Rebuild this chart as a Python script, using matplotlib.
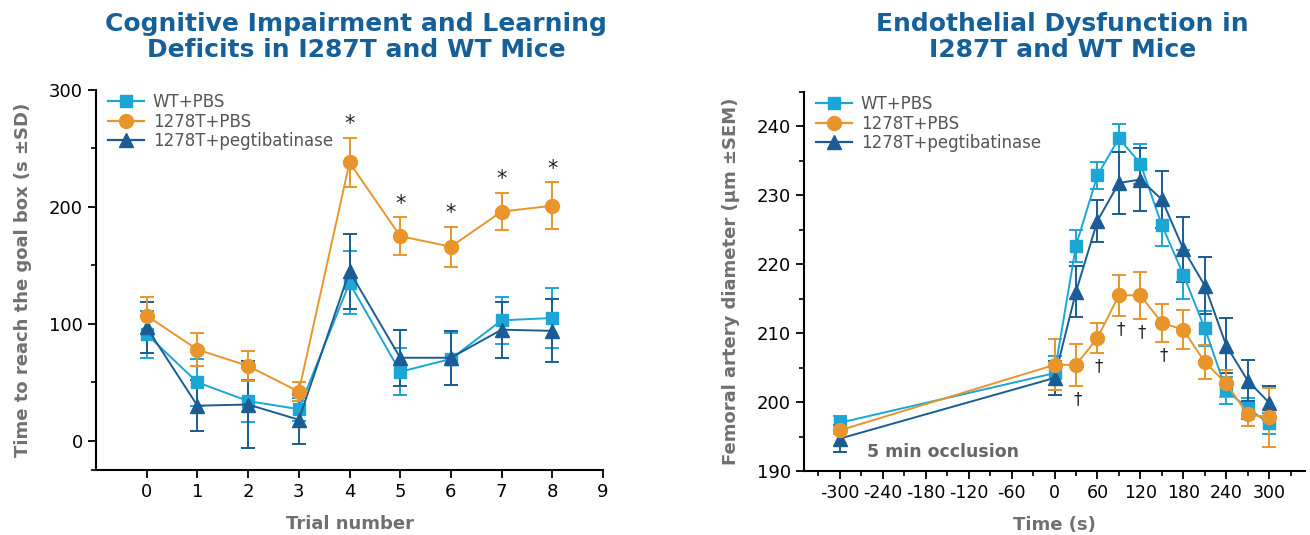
import numpy as np
import matplotlib.pyplot as plt
from matplotlib.lines import Line2D

# ---- left panel data: time to reach goal box (s, mean +/- SD) ----
trials = [0, 1, 2, 3, 4, 5, 6, 7, 8]
wt_pbs = [91, 50, 34, 27, 135, 59, 70, 103, 105]
wt_pbs_sd = [20, 20, 18, 10, 27, 20, 22, 20, 26]
i278t_pbs = [107, 78, 64, 42, 238, 175, 166, 196, 201]
i278t_pbs_sd = [16, 14, 13, 8, 21, 16, 17, 16, 20]
i278t_peg = [97, 30, 31, 18, 145, 71, 71, 95, 94]
i278t_peg_sd = [22, 22, 37, 21, 32, 24, 23, 24, 27]
star_trials = [4, 5, 6, 7, 8]

# ---- right panel data: femoral artery diameter (um, mean +/- SEM) ----
time_s = [-300, 0, 30, 60, 90, 120, 150, 180, 210, 240, 270, 300]
wt_diam = [197.0, 204.2, 222.7, 232.9, 238.3, 234.6, 225.7, 218.5, 210.7, 201.7, 199.1, 196.9]
wt_diam_sem = [1.0, 2.5, 2.3, 2.0, 2.0, 2.9, 3.0, 3.5, 2.5, 2.0, 1.5, 1.5]
i278t_diam = [195.9, 205.4, 205.4, 209.3, 215.5, 215.5, 211.5, 210.5, 205.8, 202.7, 198.2, 197.8]
i278t_diam_sem = [0.6, 3.7, 3.0, 2.2, 3.0, 3.4, 2.8, 2.8, 2.5, 2.0, 1.7, 4.3]
peg_diam = [194.7, 203.5, 216.0, 226.3, 231.8, 232.3, 229.4, 222.2, 216.9, 208.2, 203.1, 199.9]
peg_diam_sem = [2.0, 2.5, 3.7, 3.0, 4.5, 4.6, 4.2, 4.7, 4.1, 4.0, 3.0, 2.5]
dagger_times = [30, 60, 90, 120, 150]

c_wt = '#1ba6d6'
c_or = '#e8952c'
c_peg = '#1b5c95'
title_c = '#16609a'
lab_c = '#707070'
labels = ['WT+PBS', '1278T+PBS', '1278T+pegtibatinase']

plt.rcParams['font.family'] = ['DejaVu Sans']
plt.rcParams['axes.unicode_minus'] = False

fig = plt.figure(figsize=(13.1, 5.35), dpi=100)
ax1 = fig.add_axes([96/1310, 1-470/535, 507/1310, 380/535])
ax2 = fig.add_axes([804/1310, 1-471/535, 501/1310, 379/535])


def draw(ax, x, ys, errs):
    # drawing order: WT, pegtibatinase, then 1278T+PBS on top
    styles = [(c_wt, 's', 8.5), (c_peg, '^', 10), (c_or, 'o', 10)]
    for (col, mk, ms), y, e in zip(styles, ys, errs):
        ax.errorbar(x, y, yerr=e, color=col, marker=mk, ms=ms, lw=1.4,
                    elinewidth=1.4, capsize=5, capthick=1.4)
    hs = [Line2D([], [], color=c_wt, marker='s', ms=8.5, lw=1.6),
          Line2D([], [], color=c_or, marker='o', ms=10, lw=1.6),
          Line2D([], [], color=c_peg, marker='^', ms=10, lw=1.6)]
    leg = ax.legend(hs, labels, loc='upper left', frameon=False, fontsize=12,
                    handlelength=2.2, handletextpad=0.5, labelspacing=0.1,
                    borderaxespad=0.0, bbox_to_anchor=(0.01, 1.01))
    for t in leg.get_texts():
        t.set_color('#555555')
    for sp in ['top', 'right']:
        ax.spines[sp].set_visible(False)
    for sp in ['left', 'bottom']:
        ax.spines[sp].set_linewidth(1.5)
    ax.tick_params(which='major', length=6, width=1.3, labelsize=13, direction='out')
    ax.tick_params(which='minor', length=3.5, width=1.2, direction='out')


# left panel
draw(ax1, trials, [wt_pbs, i278t_peg, i278t_pbs], [wt_pbs_sd, i278t_peg_sd, i278t_pbs_sd])
ax1.set_xlim(-1, 9)
ax1.set_ylim(-25, 300)
ax1.set_xticks(range(0, 10))
ax1.set_yticks([0, 100, 200, 300])
ax1.set_yticks([-25, 50, 150, 250], minor=True)
for t in star_trials:
    i = trials.index(t)
    ax1.text(t, i278t_pbs[i] + i278t_pbs_sd[i] + 3, '*', ha='center', va='bottom',
             fontsize=15, color='#222222')
ax1.set_xlabel('Trial number', fontsize=13, fontweight='bold', color=lab_c, labelpad=10)
ax1.set_ylabel('Time to reach the goal box (s \u00b1SD)', fontsize=13, fontweight='bold',
               color=lab_c, labelpad=12)
fig.text(0.272, 0.978, 'Cognitive Impairment and Learning\nDeficits in I287T and WT Mice',
         ha='center', va='top', fontsize=18, fontweight='bold', color=title_c, linespacing=1.1)

# right panel
draw(ax2, time_s, [wt_diam, peg_diam, i278t_diam], [wt_diam_sem, peg_diam_sem, i278t_diam_sem])
ax2.set_xlim(-350, 350)
ax2.set_ylim(190, 245)
ax2.set_xticks(range(-300, 301, 60))
ax2.set_xticks(range(-330, 331, 30), minor=True)
ax2.tick_params(axis='x', labelsize=12.5)
ax2.set_yticks(range(190, 241, 10))
ax2.set_yticks(range(195, 246, 10), minor=True)
for t in dagger_times:
    i = time_s.index(t)
    ax2.text(t + 2, i278t_diam[i] - i278t_diam_sem[i] - 0.6, '\u2020', ha='center', va='top',
             fontsize=12, color='#222222')
ax2.text(-262, 192.8, '5 min occlusion', fontsize=12.5, fontweight='bold', color='#666666',
         va='center', ha='left')
ax2.set_xlabel('Time (s)', fontsize=13, fontweight='bold', color=lab_c, labelpad=10)
ax2.set_ylabel('Femoral artery diameter (\u00b5m \u00b1SEM)', fontsize=13, fontweight='bold',
               color=lab_c, labelpad=12)
fig.text(0.811, 0.978, 'Endothelial Dysfunction in\nI287T and WT Mice',
         ha='center', va='top', fontsize=18, fontweight='bold', color=title_c, linespacing=1.1)

fig.savefig('out.png', dpi=100)
